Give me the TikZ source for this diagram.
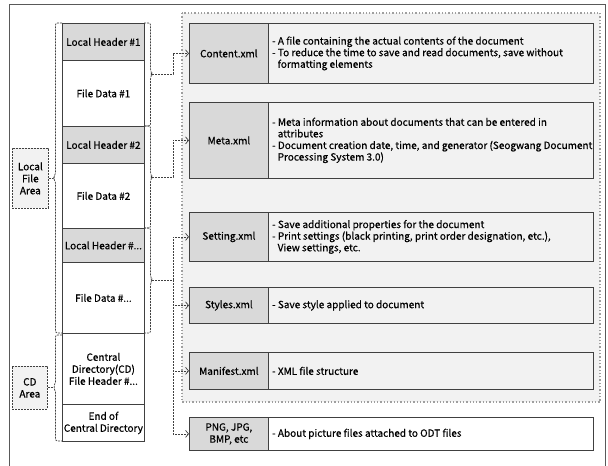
\documentclass[tikz,border=0pt]{standalone}
\usepackage{fontspec}
\setmainfont{Noto Sans CJK KR}[FakeBold=0.6]
\usetikzlibrary{arrows.meta}
\definecolor{boxline}{HTML}{404040}
\definecolor{hdrfill}{HTML}{D9D9D9}
\definecolor{grpfill}{HTML}{F2F2F2}
\definecolor{frameline}{HTML}{595959}
\tikzset{
  cell/.style={draw=boxline, line width=0.8pt, inner sep=0pt, anchor=north west,
    align=center, font=\fontsize{10}{12}\selectfont},
  hdr/.style={cell, fill=hdrfill},
  dat/.style={cell, fill=white},
  lbl/.style={cell, fill=hdrfill, minimum width=79pt},
  desc/.style={cell, minimum width=325pt},
  desctext/.style={anchor=west, inner sep=0pt, xshift=4pt, align=left,
    font=\fontsize{10}{11.6}\selectfont},
  area/.style={draw=boxline, dashed, dash pattern=on 2pt off 1pt, fill=grpfill,
    line width=0.7pt, inner sep=0pt, anchor=north west, align=center,
    font=\fontsize{10}{12}\selectfont},
  brace/.style={draw=boxline, dash pattern=on 2pt off 1pt, line width=0.7pt, rounded corners=2pt},
  conn/.style={draw=boxline, dash pattern=on 2pt off 1pt, line width=0.7pt,
    -{Straight Barb[length=3pt,width=7pt]}}
}
\newcommand{\contind}{\hspace*{5.5pt}}
\begin{document}
\begin{tikzpicture}[x=1pt,y=-1pt]
\useasboundingbox (0,0) rectangle (608,466);
% outer frame, open past the lower edge
\draw[frameline, line width=1pt] (9.5,480) -- (9.5,4) -- (605,4) -- (605,480);

% group of XML parts
\draw[gray!75, line width=1.3pt, dotted, fill=grpfill] (182,13) rectangle (600,402);

% ZIP layout column
\node[hdr, minimum width=82pt, minimum height=37pt] (lh1) at (62,23) {Local Header \#1};
\node[dat, minimum width=82pt, minimum height=66pt] (fd1) at (62,60) {File Data \#1};
\node[hdr, minimum width=82pt, minimum height=37pt] (lh2) at (62,126) {Local Header \#2};
\node[dat, minimum width=82pt, minimum height=65pt] (fd2) at (62,163) {File Data \#2};
\node[hdr, minimum width=82pt, minimum height=34pt] (lh3) at (62,228) {Local Header \#...};
\node[dat, minimum width=82pt, minimum height=71pt] (fd3) at (62,262) {File Data \#...};
\node[dat, minimum width=82pt, minimum height=71pt] (cdh) at (62,333) {Central\\Directory(CD)\\File Header \#...};
\node[dat, minimum width=82pt, minimum height=37pt] (eocd) at (62,404) {End of\\Central Directory};

% area labels
\node[area, minimum width=36pt, minimum height=60pt] (lfa) at (12,148) {Local\\File\\Area};
\node[area, minimum width=35pt, minimum height=43pt] (cda) at (12,366) {CD\\Area};

% left braces
\coordinate (lt) at (53,178);
\coordinate (ct) at (53,387);
\draw[brace] (62,23) -- (55.5,23) -- (55.5,175) -- (lt) -- (55.5,181) -- (55.5,333) -- (62,333);
\draw[brace] (62,335) -- (55.5,335) -- (55.5,384) -- (ct) -- (55.5,390) -- (55.5,441) -- (62,441);
\draw[brace, rounded corners=0pt] (lfa.east |- lt) -- (lt);
\draw[brace, rounded corners=0pt] (cda.east |- ct) -- (ct);

% right braces
\coordinate (t1) at (152,74);
\coordinate (t2) at (152,177);
\coordinate (t3) at (152,280);
\draw[brace] (144,23) -- (150.5,23) -- (150.5,71) -- (t1) -- (150.5,77) -- (150.5,126) -- (144,126);
\draw[brace] (144,126) -- (150.5,126) -- (150.5,174) -- (t2) -- (150.5,180) -- (150.5,228) -- (144,228);
\draw[brace] (144,228) -- (150.5,228) -- (150.5,277) -- (t3) -- (150.5,283) -- (150.5,333) -- (144,333);

% parts and their descriptions
\node[lbl, minimum height=60pt] (content) at (189,23) {Content.xml};
\node[desc, minimum height=60pt] (contentd) at (268,23) {};
\node[desctext] (contentt) at (contentd.west) {- A file containing the actual contents of the document\\- To reduce the time to save and read documents, save without\\\contind formatting elements};

\node[lbl, minimum height=76pt] (meta) at (189,102) {Meta.xml};
\node[desc, minimum height=76pt] (metad) at (268,102) {};
\node[desctext] (metat) at (metad.west) {- Meta information about documents that can be entered in\\\contind attributes\\- Document creation date, time, and generator (Seogwang Document\\\contind Processing System 3.0)};

\node[lbl, minimum height=49pt] (setting) at (189,212) {Setting.xml};
\node[desc, minimum height=49pt] (settingd) at (268,212) {};
\node[desctext] (settingt) at (settingd.west) {- Save additional properties for the document\\- Print settings (black printing, print order designation, etc.),\\\contind View settings, etc.};

\node[lbl, minimum height=36pt] (styles) at (189,287) {Styles.xml};
\node[desc, minimum height=36pt] (stylesd) at (268,287) {};
\node[desctext] (stylest) at (stylesd.west) {- Save style applied to document};

\node[lbl, minimum height=37pt] (manifest) at (189,352) {Manifest.xml};
\node[desc, minimum height=37pt] (manifestd) at (268,352) {};
\node[desctext] (manifestt) at (manifestd.west) {- XML file structure};

\node[lbl, minimum height=33pt] (png) at (189,417) {PNG, JPG,\\BMP, etc};
\node[desc, fill=white, minimum height=33pt] (pngd) at (268,417) {};
\node[desctext] (pngt) at (pngd.west) {- About picture files attached to ODT files};

% connectors
\coordinate (j1) at (173,74);
\coordinate (j2) at (173,177);
\coordinate (j3) at (173,280);
\draw[conn] (t1) -- (j1) |- (content.west);
\draw[conn] (t2) -- (j2) |- (meta.west);
\draw[brace, rounded corners=0pt] (t3) -- (j3);
\draw[conn] (j3) |- (setting.west);
\draw[conn] (j3) |- (styles.west);
\draw[conn] (j3) |- (manifest.west);
\draw[conn] (j3) |- (png.west);
\end{tikzpicture}
\end{document}
